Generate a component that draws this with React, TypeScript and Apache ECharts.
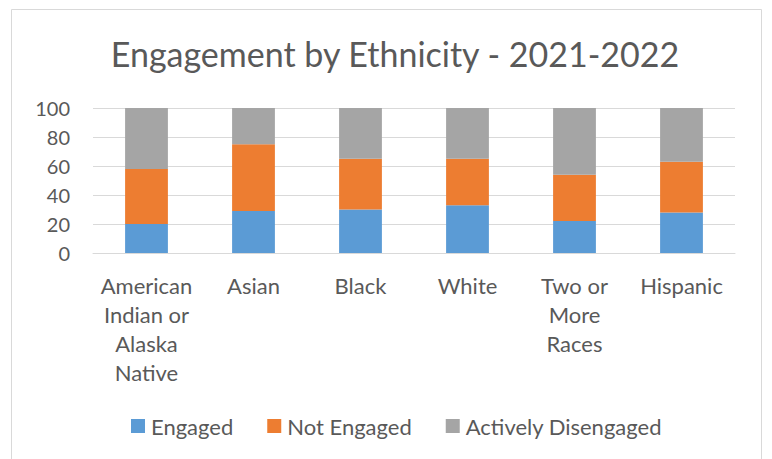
import React, { useEffect, useRef } from "react";
import * as echarts from "echarts";

const categories = [
  "American\nIndian or\nAlaska\nNative",
  "Asian",
  "Black",
  "White",
  "Two or\nMore\nRaces",
  "Hispanic",
];
const engaged = [20, 29, 30, 33, 22, 28];
const notEngaged = [38, 46, 35, 32, 32, 35];
const activelyDisengaged = [42, 25, 35, 35, 46, 37];
const yTicks = [0, 20, 40, 60, 80, 100];

const FONT = "Lato";
const TEXT = "#595959";

export default function App() {
  const ref = useRef<HTMLDivElement>(null);
  useEffect(() => {
    const chart = echarts.init(ref.current!, undefined, { renderer: "svg" });
    const mk = (name: string, data: number[], color: string) => ({
      name,
      type: "bar",
      stack: "total",
      data,
      barWidth: "40%",
      itemStyle: { color },
    });
    chart.setOption({
      animation: false,
      backgroundColor: "#ffffff",
      title: {
        text: "Engagement by Ethnicity - 2021-2022",
        left: 390,
        textAlign: "center",
        top: 31,
        textStyle: { fontFamily: FONT, fontSize: 34, fontWeight: "normal", color: TEXT },
      },
      graphic: [
        {
          type: "rect",
          shape: { x: 11.5, y: 9.5, width: 750, height: 460 },
          style: { fill: "none", stroke: "#D9D9D9", lineWidth: 1 },
          silent: true,
        },
      ],
      legend: {
        left: 126,
        top: 410,
        itemWidth: 14,
        itemHeight: 14,
        itemGap: 34,
        icon: "rect",
        textStyle: { fontFamily: FONT, fontSize: 22, color: TEXT, padding: [0, 0, 0, 1] },
        data: ["Engaged", "Not Engaged", "Actively Disengaged"],
      },
      grid: { left: 93, right: 37, top: 108, bottom: 206, containLabel: false },
      xAxis: {
        type: "category",
        data: categories,
        axisLine: { lineStyle: { color: "#D9D9D9", width: 1 } },
        axisTick: { show: false },
        axisLabel: {
          interval: 0,
          fontFamily: FONT,
          fontSize: 22,
          color: TEXT,
          lineHeight: 29,
          margin: 18,
        },
      },
      yAxis: {
        type: "value",
        min: yTicks[0],
        max: yTicks[yTicks.length - 1],
        interval: 20,
        axisLine: { show: false },
        axisTick: { show: false },
        splitLine: { lineStyle: { color: "#D9D9D9", width: 1 } },
        axisLabel: { fontFamily: FONT, fontSize: 20, color: TEXT, margin: 23 },
      },
      series: [
        mk("Engaged", engaged, "#5B9BD5"),
        mk("Not Engaged", notEngaged, "#ED7D31"),
        mk("Actively Disengaged", activelyDisengaged, "#A5A5A5"),
      ],
    });
    return () => chart.dispose();
  }, []);
  return (
    <div
      ref={ref}
      style={{ position: "fixed", left: 0, top: 0, width: 772, height: 459 }}
    />
  );
}
